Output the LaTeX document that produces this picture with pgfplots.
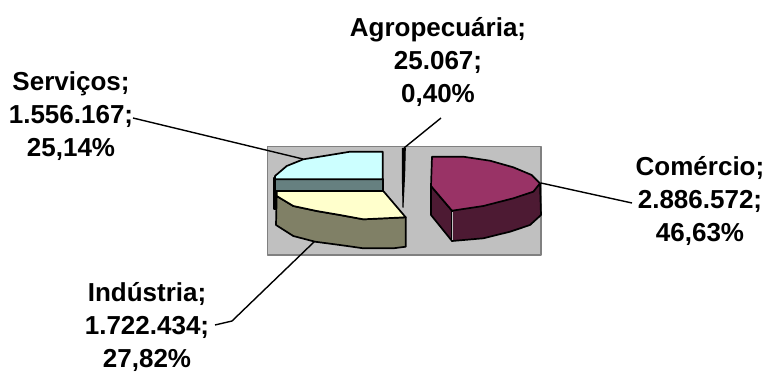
\documentclass[border=0pt]{standalone}
\usepackage{pgfplots}
\pgfplotsset{compat=1.18}
\usepackage{fontspec}
\setmainfont{Liberation Sans}
\definecolor{plotbg}{HTML}{C0C0C0}
\definecolor{plotedge}{HTML}{808080}
\definecolor{comtop}{HTML}{993366}
\definecolor{comside}{HTML}{4D1A33}
\definecolor{indtop}{HTML}{FFFFCC}
\definecolor{indside}{HTML}{808066}
\definecolor{sertop}{HTML}{CCFFFF}
\definecolor{serside}{HTML}{668080}
\tikzset{lab/.style={font=\fontsize{26pt}{33pt}\selectfont\bfseries, align=center, anchor=center, inner sep=0pt}}
\begin{document}
\begin{tikzpicture}
\begin{axis}[
  scale only axis, width=769pt, height=373pt,
  xmin=0, xmax=769, ymin=0, ymax=373, y dir=reverse,
  axis lines=none, clip=false,
  every axis plot/.append style={line join=round},
]
\addplot[draw=none] coordinates {(0,0)(769,373)};
% plot area
\addplot[draw=plotedge, line width=1.5pt, fill=plotbg] coordinates {(267.7,146.7)(541,146.7)(541,255)(267.7,255)} -- cycle;
% leaders
\addplot[black, line width=1.4pt] coordinates {(133,118)(303,159)};
\addplot[black, line width=1.4pt] coordinates {(441,118)(404,148)};
\addplot[black, line width=1.4pt] coordinates {(541,183)(632,203)};
\addplot[black, line width=1.4pt] coordinates {(315,241)(232,321)(215,325)};
% Agropecuaria
\addplot[draw=black, line width=1pt, fill=black] coordinates {(402.3,148.3)(405.3,148.3)(404.7,173)(403,207.3)(402.3,175)} -- cycle;
% Comercio
\addplot[draw=black, line width=1.7pt, fill=comside] coordinates {(431,186)(452,210.7)(452,241)(431,215)} -- cycle;
\addplot[draw=black, line width=1.7pt, fill=comside] coordinates {(452,210.7)(540,183.3)(541,215)(530,225)(510,231.7)(483.3,238.3)(452,241)} -- cycle;
\addplot[draw=plotbg, line width=0.7pt] coordinates {(452,212)(452,240)};
\addplot[draw=black, line width=1.7pt, fill=comtop] coordinates {(432,156.7)(463.3,156.7)(490,160.7)(513.3,167.3)(531.7,175)(540,183.3)(533.3,191.7)(513.3,198.3)(483.3,206)(452,210.7)(431,186)} -- cycle;
% Servicos
\addplot[draw=black, line width=1.7pt, fill=black] coordinates {(274,178)(276,178)(276,209)(274,209)} -- cycle;
\addplot[draw=black, line width=1.7pt, fill=serside] coordinates {(275,179.3)(382.7,179.3)(382.7,191)(275,191)} -- cycle;
\addplot[draw=black, line width=1.7pt, fill=sertop] coordinates {(382.7,151.7)(350,151.7)(330,155)(303.3,159.3)(286.7,166)(275,176)(275,179.3)(382.7,179.3)} -- cycle;
% Industria
\addplot[draw=black, line width=1.7pt, fill=indside] coordinates {(276.7,196)(293.3,206)(316.7,211)(340,215)(363.3,219.3)(405.7,217.3)(405.7,246.7)(393.3,248.3)(363.3,248.3)(340,245)(315,241.7)(293.3,236)(276,225)} -- cycle;
\addplot[draw=black, line width=1.7pt, fill=indtop] coordinates {(383.3,191)(276.7,191)(276.7,196)(293.3,206)(316.7,211)(340,215)(363.3,219.3)(405.7,217.3)} -- cycle;
% labels
\node[lab] at (axis cs:438,62) {Agropecuária;\\25.067;\\0,40\%};
\node[lab] at (axis cs:71,116) {Serviços;\\1.556.167;\\25,14\%};
\node[lab] at (axis cs:700,201) {Comércio;\\2.886.572;\\46,63\%};
\node[lab] at (axis cs:147,327) {Indústria;\\1.722.434;\\27,82\%};
\end{axis}
\end{tikzpicture}
\end{document}
